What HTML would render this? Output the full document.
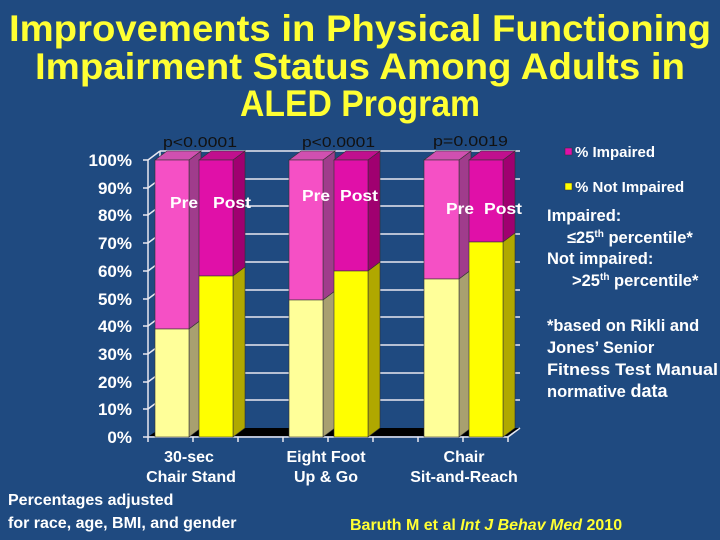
<!DOCTYPE html>
<html><head><meta charset="utf-8"><style>
html,body{margin:0;padding:0;background:#1f4a80;}
svg{display:block;font-family:"Liberation Sans",Arial,sans-serif;}
</style></head><body>
<svg width="720" height="540" viewBox="0 0 720 540" xmlns="http://www.w3.org/2000/svg">
<rect width="720" height="540" fill="#1f4a80"/>
<g font-weight="bold" fill="#ffff33" font-size="37" text-anchor="middle">
<text x="360" y="41" textLength="702" lengthAdjust="spacingAndGlyphs">Improvements in Physical Functioning</text>
<text x="360" y="79" textLength="650" lengthAdjust="spacingAndGlyphs">Impairment Status Among Adults in</text>
<text x="360" y="116" textLength="240" lengthAdjust="spacingAndGlyphs">ALED Program</text>
</g>
<g stroke="#e8e8f0" stroke-width="1.5" fill="none">
<line x1="160" y1="151" x2="520" y2="151"/><line x1="160" y1="179" x2="520" y2="179"/>
<line x1="160" y1="206" x2="520" y2="206"/><line x1="160" y1="234" x2="520" y2="234"/>
<line x1="160" y1="262" x2="520" y2="262"/><line x1="160" y1="290" x2="520" y2="290"/>
<line x1="160" y1="317" x2="520" y2="317"/><line x1="160" y1="345" x2="520" y2="345"/>
<line x1="160" y1="373" x2="520" y2="373"/><line x1="160" y1="400" x2="520" y2="400"/>
<line x1="148" y1="160" x2="160" y2="151"/><line x1="148" y1="188" x2="160" y2="179"/>
<line x1="148" y1="215" x2="160" y2="206"/><line x1="148" y1="243" x2="160" y2="234"/>
<line x1="148" y1="271" x2="160" y2="262"/><line x1="148" y1="299" x2="160" y2="290"/>
<line x1="148" y1="326" x2="160" y2="317"/><line x1="148" y1="354" x2="160" y2="345"/>
<line x1="148" y1="382" x2="160" y2="373"/><line x1="148" y1="409" x2="160" y2="400"/>
<line x1="160" y1="151" x2="160" y2="428"/>
<line x1="148" y1="160" x2="148" y2="437"/>
<line x1="143" y1="160" x2="148" y2="160"/><line x1="143" y1="188" x2="148" y2="188"/>
<line x1="143" y1="215" x2="148" y2="215"/><line x1="143" y1="243" x2="148" y2="243"/>
<line x1="143" y1="271" x2="148" y2="271"/><line x1="143" y1="299" x2="148" y2="299"/>
<line x1="143" y1="326" x2="148" y2="326"/><line x1="143" y1="354" x2="148" y2="354"/>
<line x1="143" y1="382" x2="148" y2="382"/><line x1="143" y1="409" x2="148" y2="409"/>
<line x1="143" y1="437" x2="148" y2="437"/>
<line x1="148" y1="437" x2="508" y2="437"/>
<line x1="508" y1="437" x2="520" y2="428"/>
<line x1="148" y1="437" x2="148" y2="442"/><line x1="193" y1="437" x2="193" y2="442"/>
<line x1="238" y1="437" x2="238" y2="442"/><line x1="283" y1="437" x2="283" y2="442"/>
<line x1="328" y1="437" x2="328" y2="442"/><line x1="373" y1="437" x2="373" y2="442"/>
<line x1="418" y1="437" x2="418" y2="442"/><line x1="463" y1="437" x2="463" y2="442"/>
<line x1="508" y1="437" x2="508" y2="442"/>
</g>
<polygon points="149,436 161,428 519,428 507,436" fill="#000"/>
<g stroke="#333" stroke-width="0.6">
<polygon points="189,160 201,151 201,320 189,329" fill="#a03c8c"/>
<polygon points="189,329 201,320 201,428 189,437" fill="#a8a070"/>
<polygon points="155,160 167,151 201,151 189,160" fill="#d050b0"/>
<rect x="155" y="160" width="34" height="169" fill="#f550c5"/>
<rect x="155" y="329" width="34" height="108" fill="#ffff99"/>
<polygon points="233,160 245,151 245,267 233,276" fill="#a00070"/>
<polygon points="233,276 245,267 245,428 233,437" fill="#b0a800"/>
<polygon points="199,160 211,151 245,151 233,160" fill="#c0108e"/>
<rect x="199" y="160" width="34" height="116" fill="#e010a8"/>
<rect x="199" y="276" width="34" height="161" fill="#ffff00"/>
<polygon points="323,160 335,151 335,291 323,300" fill="#a03c8c"/>
<polygon points="323,300 335,291 335,428 323,437" fill="#a8a070"/>
<polygon points="289,160 301,151 335,151 323,160" fill="#d050b0"/>
<rect x="289" y="160" width="34" height="140" fill="#f550c5"/>
<rect x="289" y="300" width="34" height="137" fill="#ffff99"/>
<polygon points="368,160 380,151 380,262 368,271" fill="#a00070"/>
<polygon points="368,271 380,262 380,428 368,437" fill="#b0a800"/>
<polygon points="334,160 346,151 380,151 368,160" fill="#c0108e"/>
<rect x="334" y="160" width="34" height="111" fill="#e010a8"/>
<rect x="334" y="271" width="34" height="166" fill="#ffff00"/>
<polygon points="459,160 471,151 471,270 459,279" fill="#a03c8c"/>
<polygon points="459,279 471,270 471,428 459,437" fill="#a8a070"/>
<polygon points="424,160 436,151 471,151 459,160" fill="#d050b0"/>
<rect x="424" y="160" width="35" height="119" fill="#f550c5"/>
<rect x="424" y="279" width="35" height="158" fill="#ffff99"/>
<polygon points="503,160 515,151 515,233 503,242" fill="#a00070"/>
<polygon points="503,242 515,233 515,428 503,437" fill="#b0a800"/>
<polygon points="469,160 481,151 515,151 503,160" fill="#c0108e"/>
<rect x="469" y="160" width="34" height="82" fill="#e010a8"/>
<rect x="469" y="242" width="34" height="195" fill="#ffff00"/>
</g>
<g fill="#fff" font-weight="bold" font-size="17" text-anchor="end">
<text x="132" y="166">100%</text><text x="132" y="194">90%</text><text x="132" y="221">80%</text>
<text x="132" y="249">70%</text><text x="132" y="277">60%</text><text x="132" y="305">50%</text>
<text x="132" y="332">40%</text><text x="132" y="360">30%</text><text x="132" y="388">20%</text>
<text x="132" y="415">10%</text><text x="132" y="443">0%</text>
</g>
<g fill="#111" font-size="15">
<text x="163" y="147" textLength="74" lengthAdjust="spacingAndGlyphs">p&lt;0.0001</text>
<text x="302" y="147" textLength="73" lengthAdjust="spacingAndGlyphs">p&lt;0.0001</text>
<text x="433" y="146" textLength="75" lengthAdjust="spacingAndGlyphs">p=0.0019</text>
</g>
<g fill="#fff" font-weight="bold" font-size="16">
<text x="170" y="208" textLength="28" lengthAdjust="spacingAndGlyphs">Pre</text><text x="213" y="208" textLength="38" lengthAdjust="spacingAndGlyphs">Post</text>
<text x="302" y="201" textLength="28" lengthAdjust="spacingAndGlyphs">Pre</text><text x="340" y="201" textLength="38" lengthAdjust="spacingAndGlyphs">Post</text>
<text x="446" y="214" textLength="28" lengthAdjust="spacingAndGlyphs">Pre</text><text x="484" y="214" textLength="38" lengthAdjust="spacingAndGlyphs">Post</text>
</g>
<g fill="#fff" font-weight="bold" font-size="16" text-anchor="middle">
<text x="189" y="462">30-sec</text><text x="191" y="482">Chair Stand</text>
<text x="326" y="462">Eight Foot</text><text x="326" y="482">Up &amp; Go</text>
<text x="464" y="462">Chair</text><text x="464" y="482">Sit-and-Reach</text>
</g>
<rect x="565" y="148" width="7" height="7" fill="#e010a8" stroke="#333" stroke-width="0.5"/>
<rect x="565" y="183" width="7" height="7" fill="#ffff00" stroke="#333" stroke-width="0.5"/>
<g fill="#fff" font-weight="bold" font-size="15">
<text x="575" y="157">% Impaired</text>
<text x="575" y="192">% Not Impaired</text>
</g>
<g fill="#fff" font-weight="bold" font-size="16.5">
<text x="547" y="221">Impaired:</text>
<text x="567" y="243">≤25<tspan font-size="10" dy="-6">th</tspan><tspan dy="6"> percentile*</tspan></text>
<text x="547" y="264">Not impaired:</text>
<text x="572" y="286">&gt;25<tspan font-size="10" dy="-6">th</tspan><tspan dy="6"> percentile*</tspan></text>
<text x="547" y="331">*based on Rikli and</text>
<text x="547" y="353">Jones’ Senior</text>
<text x="547" y="375" textLength="171" lengthAdjust="spacingAndGlyphs">Fitness Test Manual</text>
<text x="547" y="397">normative <tspan font-size="18">data</tspan></text>
</g>
<g fill="#fff" font-weight="bold" font-size="16">
<text x="8" y="505">Percentages adjusted</text>
<text x="8" y="528">for race, age, BMI, and gender</text>
</g>
<text x="350" y="530" fill="#ffff33" font-weight="bold" font-size="16">Baruth M et al <tspan font-style="italic">Int J Behav Med</tspan> 2010</text>
</svg>
</body></html>
